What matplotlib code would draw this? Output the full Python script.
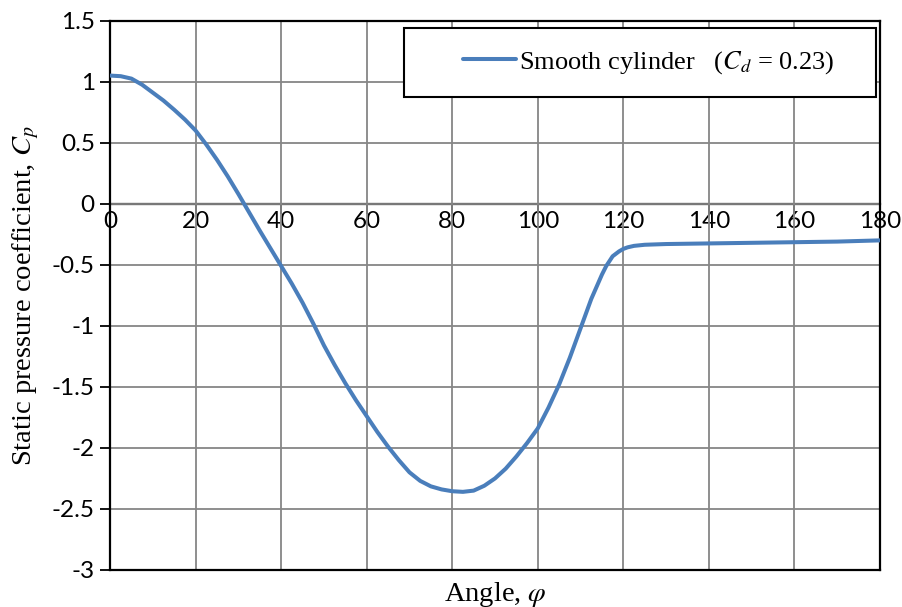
import matplotlib
matplotlib.use("Agg")
import matplotlib.pyplot as plt
from matplotlib.patches import Rectangle

# pressure distribution around a smooth cylinder
angle = [0, 2.5, 5, 7.5, 10, 12.5, 15, 17.5, 20, 22.5, 25, 27.5, 30, 32.5,
         35, 37.5, 40, 42.5, 45, 47.5, 50, 52.5, 55, 57.5, 60, 62.5, 65,
         67.5, 70, 72.5, 75, 77.5, 80, 82.5, 85, 87.5, 90, 92.5, 95, 97.5,
         100, 102.5, 105, 107.5, 110, 112.5, 115, 116, 117.5, 119, 120, 121,
         122.5, 125, 130, 140, 150, 160, 170, 180]
cp = [1.05, 1.045, 1.025, 0.975, 0.91, 0.845, 0.77, 0.69, 0.60, 0.485, 0.36,
      0.225, 0.08, -0.07, -0.22, -0.365, -0.51, -0.655, -0.81, -0.98, -1.16,
      -1.32, -1.47, -1.61, -1.74, -1.87, -1.99, -2.10, -2.20, -2.27, -2.315,
      -2.34, -2.355, -2.36, -2.35, -2.31, -2.25, -2.17, -2.07, -1.96, -1.84,
      -1.67, -1.48, -1.26, -1.02, -0.78, -0.58, -0.51, -0.43, -0.39, -0.37,
      -0.357, -0.345, -0.336, -0.33, -0.325, -0.32, -0.315, -0.31, -0.30]

x_ticks = [0, 20, 40, 60, 80, 100, 120, 140, 160, 180]
y_ticks = [-3, -2.5, -2, -1.5, -1, -0.5, 0, 0.5, 1, 1.5]
y_labels = ["-3", "-2.5", "-2", "-1.5", "-1", "-0.5", "0", "0.5", "1", "1.5"]
series_label = r"Smooth cylinder   ($C_d$ = 0.23)"

plt.rcParams["font.family"] = ["Liberation Serif", "DejaVu Serif"]
plt.rcParams["mathtext.fontset"] = "stix"

tick_font = "Lato"
tick_size = 17.5

fig = plt.figure(figsize=(9.02, 6.07), dpi=100)
ax = fig.add_axes([0.122, 0.061, 0.8536, 0.905])

ax.set_xlim(0, 180)
ax.set_ylim(-3, 1.5)
ax.set_xticks(x_ticks)
ax.set_yticks(y_ticks)
ax.set_yticklabels(y_labels, fontfamily=tick_font, fontsize=tick_size)
ax.tick_params(axis="x", length=0, labelbottom=False)
ax.tick_params(axis="y", direction="out", length=7, width=1.3, color="black", pad=4)
ax.grid(True, color="#868686", linewidth=1.3)
ax.set_axisbelow(True)
for s in ax.spines.values():
    s.set_color("black")
    s.set_linewidth(1.6)

ax.plot(angle, cp, color="#4A7EBB", linewidth=2.9, zorder=3,
        solid_capstyle="round", label=series_label)

# horizontal axis sits on the Cp = 0 line
sec = ax.secondary_xaxis(3 / 4.5)
sec.set_alignment("bottom")
sec.set_xticks(x_ticks)
sec.set_xticklabels([str(v) for v in x_ticks], fontfamily=tick_font, fontsize=tick_size)
sec.tick_params(direction="out", length=7, width=1.3, color="black", pad=-2)
sec.spines["bottom"].set_color("black")
sec.spines["bottom"].set_linewidth(1.6)

ax.set_xlabel(r"Angle, $\varphi$", fontsize=20.5, labelpad=7)
ax.set_ylabel(r"Static pressure coefficient, $C_p$", fontsize=20.5, labelpad=8)

# legend box
ax.add_patch(Rectangle((0.382, 0.861), 0.6126, 0.126, transform=ax.transAxes,
                       facecolor="white", edgecolor="black", linewidth=1.5, zorder=4))
leg = ax.legend(loc="center left", bbox_to_anchor=(0.445, 0.924), frameon=False,
                fontsize=19, handlelength=2.0, handletextpad=0.1, borderaxespad=0)
leg.set_zorder(5)

fig.savefig("out.png", dpi=100)
